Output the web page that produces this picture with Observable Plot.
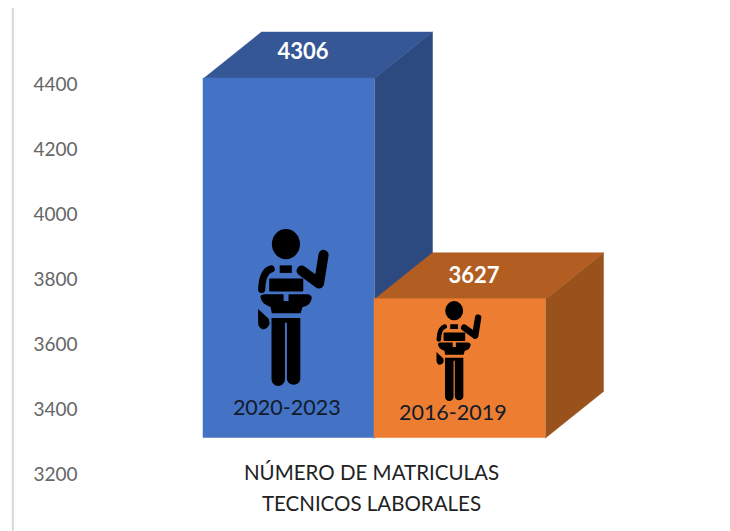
<!DOCTYPE html>
<html><head><meta charset="utf-8">
<style>html,body{margin:0;padding:0;background:#fff}svg{display:block}</style>
<script src="https://cdn.jsdelivr.net/npm/d3@7"></script>
<script src="https://cdn.jsdelivr.net/npm/@observablehq/plot@0.6"></script>
</head><body><div id="chart"></div>
<script>
const periods = ["2020-2023", "2016-2019"];
const values = [4306, 3627];
const frontColors = ["#4472c4", "#ed7d31"];
const topColors = ["#355795", "#b25e22"];
const sideColors = ["#2c4a80", "#9a521d"];
const yTicks = [3200, 3400, 3600, 3800, 4000, 4200, 4400];
const categoryLabel = "NÚMERO DE MATRICULAS\nTECNICOS LABORALES";
const baseValue = 3200;
const depthX = 0.339, depthY = 143, liftPx = -36.5;
const valueLabelRise = [82, 72];

const iconSvg = `<svg xmlns="http://www.w3.org/2000/svg" viewBox="170 18 220 485">
<ellipse cx="257" cy="67" rx="43" ry="46"/>
<path d="M372 100 L358 187 L305 148" fill="none" stroke="#000" stroke-width="31" stroke-linecap="round" stroke-linejoin="round"/>
<rect x="238" y="132" width="37" height="23"/>
<path d="M212 143 Q185 150 183 205" fill="none" stroke="#000" stroke-width="22" stroke-linecap="round"/>
<rect x="206" y="172" width="104" height="40" rx="3"/>
<path d="M179 228 Q180 219 195 220 L250 220 L250 241 L265 241 L265 220 L322 220 Q336 221 336 232 Q333 256 308 259 L302 278 L214 278 L210 259 Q183 252 179 228Z"/>
<path d="M172 265 L205 296 L207 312 Q197 331 184 326 Q172 322 172 305 Z"/>
<path d="M213 293 H301 V480 A21 21 0 0 1 260 480 V307 H254 V480 A20.5 20.5 0 0 1 213 480 Z"/>
</svg>`;
const iconSrc = "data:image/svg+xml;utf8," + encodeURIComponent(iconSvg);

const bars = periods.map((p, i) => ({period: p, value: values[i], i}));
const topFace = b => [[b.i, b.value], [b.i + depthX, b.value + depthY], [b.i + 1 + depthX, b.value + depthY], [b.i + 1, b.value]];
const sideFace = b => [[b.i + 1, b.value], [b.i + 1 + depthX, b.value + depthY], [b.i + 1 + depthX, baseValue + depthY], [b.i + 1, baseValue]];
const faceMark = (pts, color) => Plot.line(pts, {x: d => d[0], y: d => d[1], fill: color, stroke: color, strokeWidth: 0.5, curve: "linear-closed", dy: liftPx});

const marks = [
  Plot.ruleX([-1.115], {y1: 3025, y2: 4634, stroke: "#d9d9d9", strokeWidth: 2}),
  Plot.axisY({ticks: yTicks, tickFormat: d => String(d), tickSize: 0, tickPadding: 6, fontSize: 19, label: null, color: "#666", fill: "#666", fontFamily: "Lato"})
];
for (const b of bars) {
  marks.push(faceMark(sideFace(b), sideColors[b.i]));
  marks.push(faceMark(topFace(b), topColors[b.i]));
  marks.push(Plot.rect([b], {x1: d => d.i, x2: d => d.i + 1, y1: baseValue, y2: d => d.value, fill: frontColors[b.i], stroke: frontColors[b.i], strokeWidth: 0.5, dy: liftPx}));
}
marks.push(
  Plot.image([0], {x: 0.526, y: 3714, width: 72, height: 160, src: () => iconSrc}),
  Plot.image([1], {x: 1.494, y: 3580, width: 47, height: 101, src: () => iconSrc}),
  Plot.text(bars, {x: d => d.i + 0.582, y: d => d.value + valueLabelRise[d.i], text: d => String(d.value), fill: "#fff", fontSize: 22, fontWeight: 700, fontFamily: "Lato", dy: liftPx}),
  Plot.text(bars, {x: d => d.i === 0 ? 0.487 : 1.458, y: d => d.i === 0 ? 3403 : 3388, text: "period", fill: "#111b2b", fontSize: 21.5, fontFamily: "Lato"}),
  Plot.text([categoryLabel], {x: 1, y: baseValue, text: d => d, dy: 11, dx: -3, fill: "#222", fontSize: 20.5, lineHeight: 1.5, fontFamily: "Lato"})
);

const plot = Plot.plot({
  width: 730, height: 531,
  marginLeft: 83, marginRight: 0, marginTop: 0, marginBottom: 0,
  style: {background: "#fff", fontFamily: "Lato"},
  x: {domain: [0, 2], range: [203, 545], axis: null},
  y: {domain: [3200, 4400], range: [474, 84]},
  marks
});
document.getElementById("chart").appendChild(plot);
</script></body></html>
